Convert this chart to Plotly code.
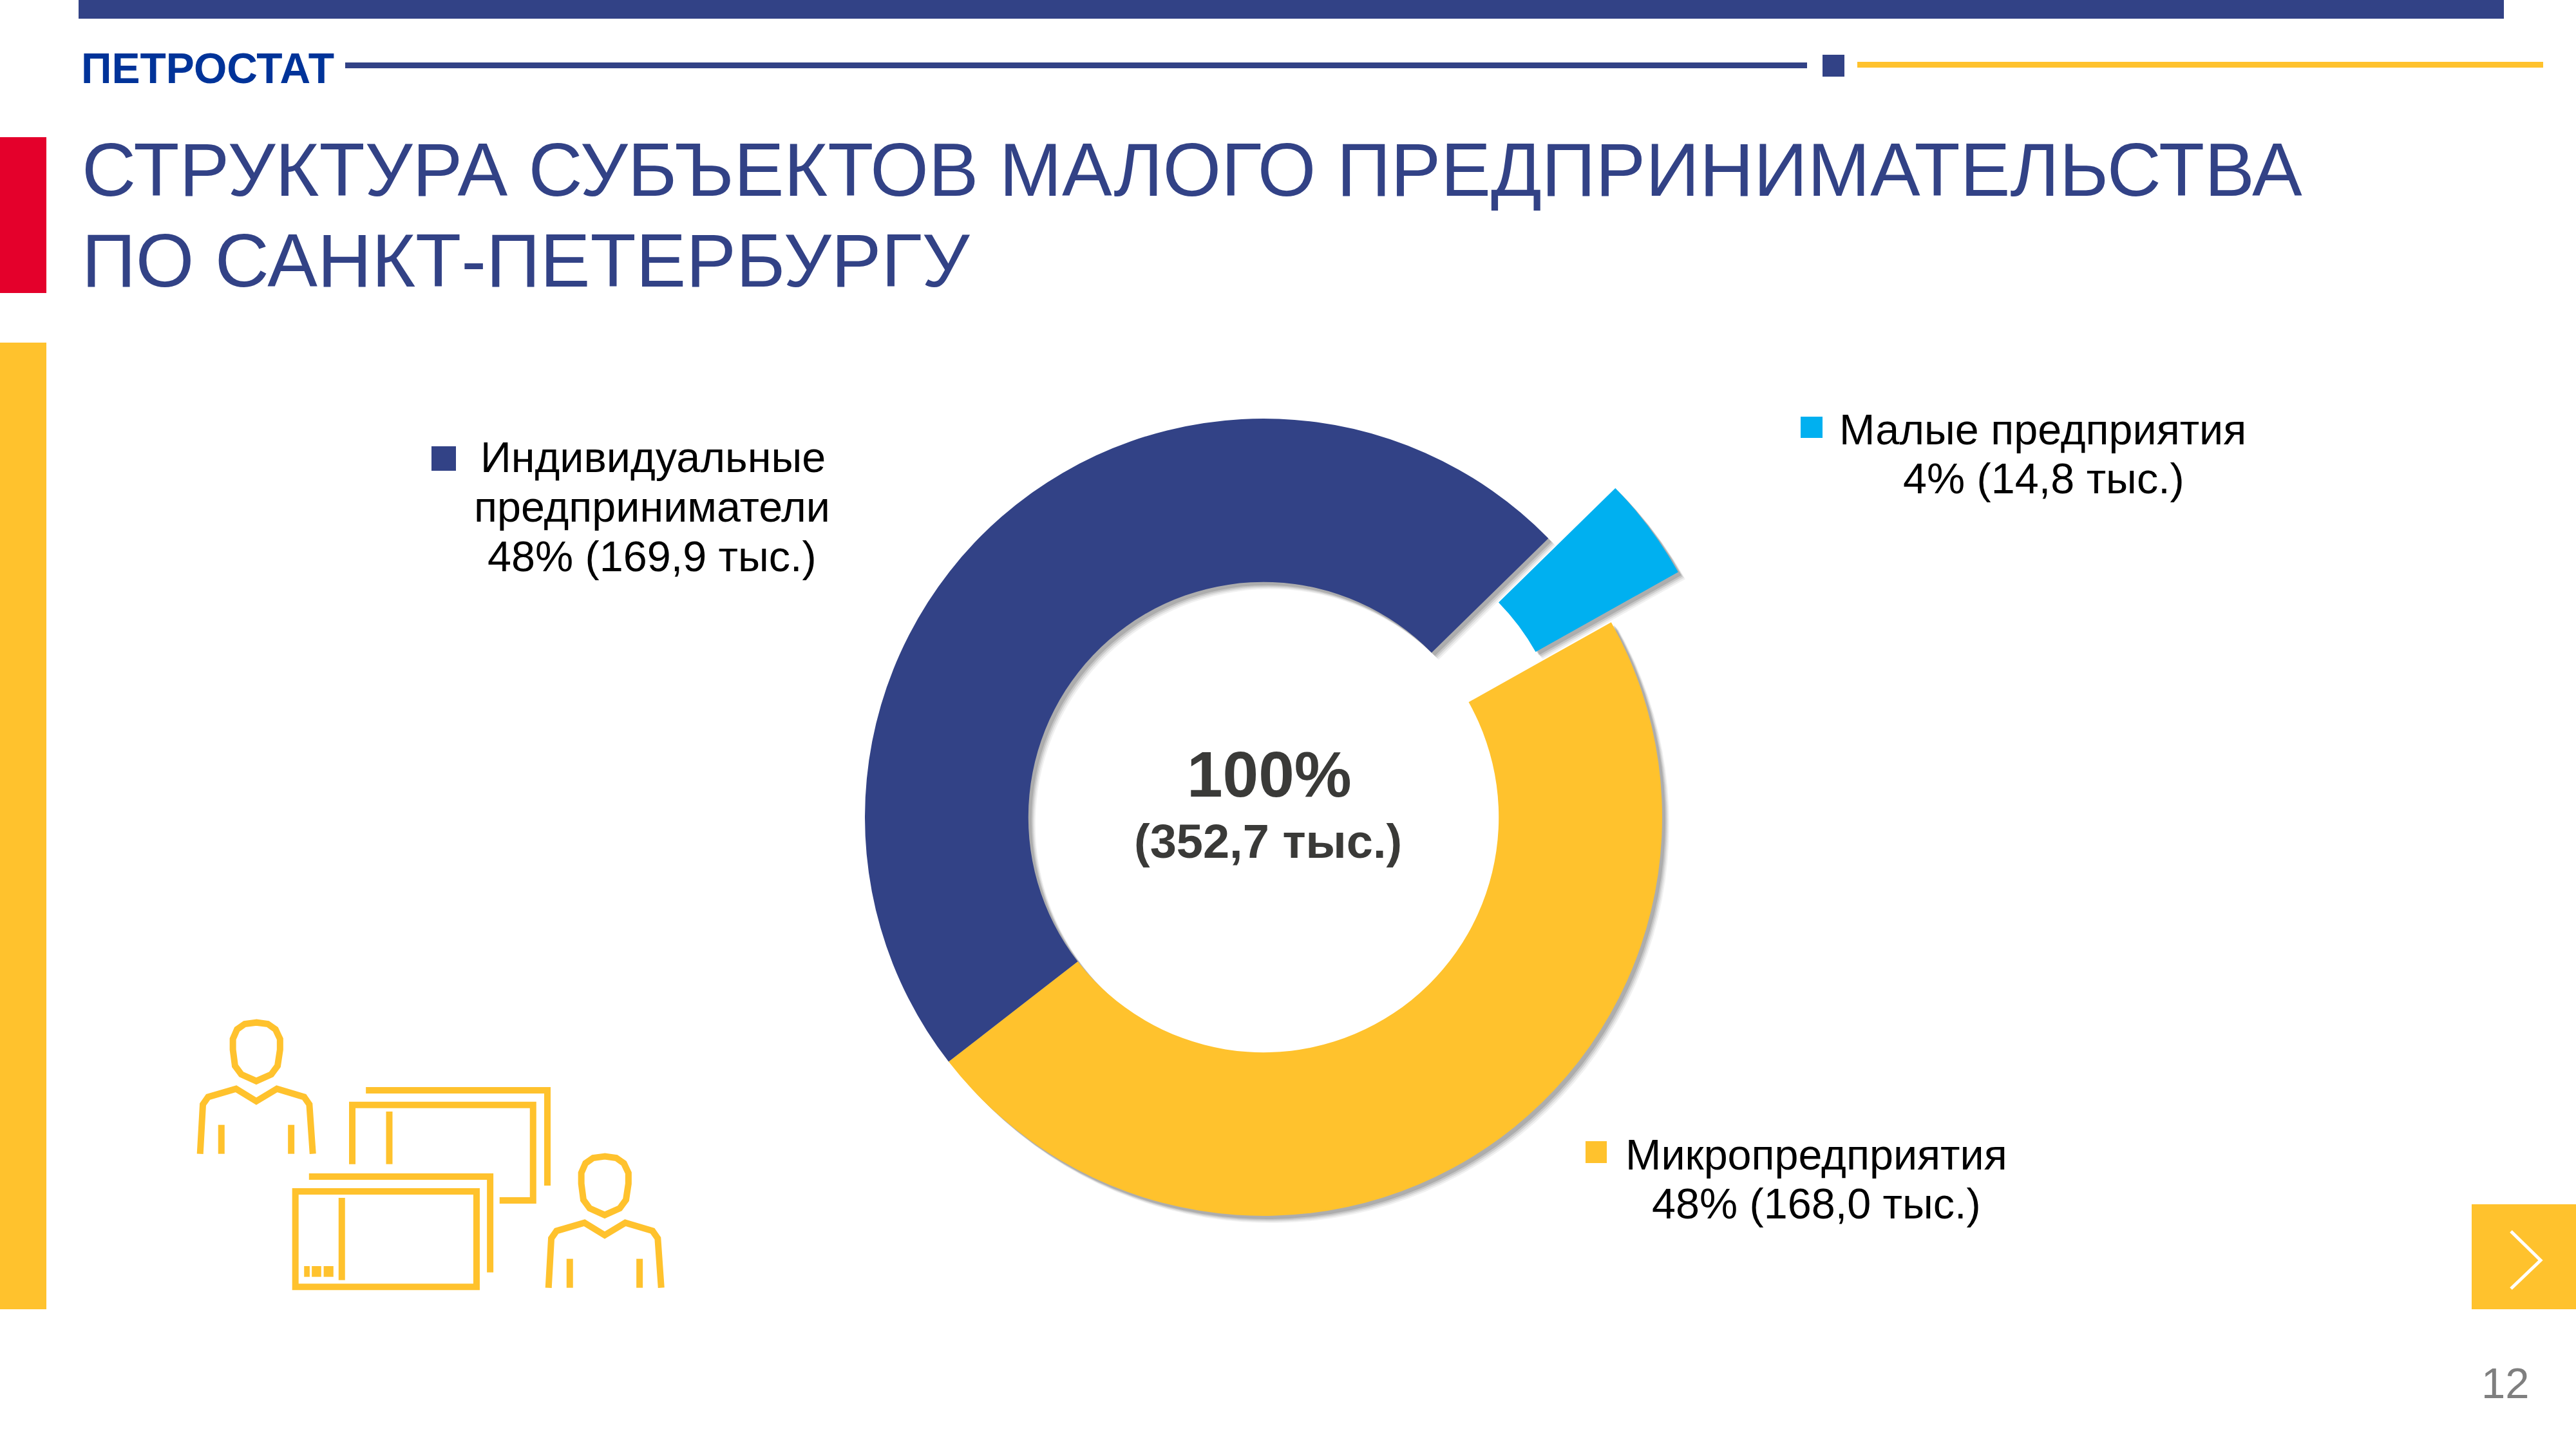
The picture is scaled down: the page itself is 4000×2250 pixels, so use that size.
import plotly.graph_objects as go

W = 4000
H = 2250

NAVY = "#324286"
YELLOW = "#FFC22D"
SKY = "#00B0F0"
RED = "#E4002B"
FONT = "Liberation Sans"

# data, thousand entities
categories = ["Малые предприятия", "Микропредприятия", "Индивидуальные предприниматели"]
values = [14.8, 168.0, 169.9]
slice_colors = [SKY, YELLOW, NAVY]

header_label = "ПЕТРОСТАТ"
title_lines = ["СТРУКТУРА СУБЪЕКТОВ МАЛОГО ПРЕДПРИНИМАТЕЛЬСТВА", "ПО САНКТ-ПЕТЕРБУРГУ"]
total_lines = ["100%", "(352,7 тыс.)"]
small_lines = ["Малые предприятия", "4% (14,8 тыс.)"]
micro_lines = ["Микропредприятия", "48% (168,0 тыс.)"]
ip_lines = ["Индивидуальные", "предприниматели", "48% (169,9 тыс.)"]
page_number = "12"

CX, CY = 1962, 1269
RADIUS = 619
PULL = 0.21


def fx(x):
    return x / W


def fy(y):
    return 1 - y / H


def donut(dx, dy, colors):
    half = RADIUS * (1 + PULL)
    return go.Pie(
        labels=categories,
        values=values,
        sort=False,
        direction="clockwise",
        rotation=45.6,
        hole=0.59,
        pull=[PULL, 0, 0],
        marker=dict(colors=colors, line=dict(width=0)),
        textinfo="none",
        hoverinfo="label+value",
        showlegend=False,
        domain=dict(
            x=[fx(CX + dx - half), fx(CX + dx + half)],
            y=[fy(CY + dy + half), fy(CY + dy - half)],
        ),
    )


fig = go.Figure()

# soft drop shadow under the ring
for off, alpha in [(11, 0.07), (9, 0.10), (7, 0.14), (5, 0.18)]:
    fig.add_trace(donut(off, off, [f"rgba(60,60,60,{alpha})"] * 3))
fig.add_trace(donut(0, 0, slice_colors))

shapes = []


def rect(x0, y0, x1, y1, color):
    shapes.append(dict(type="rect", xref="paper", yref="paper",
                       x0=fx(x0), x1=fx(x1), y0=fy(y1), y1=fy(y0),
                       fillcolor=color, line=dict(width=0), layer="below"))


def path(d, color, width=10):
    shapes.append(dict(type="path", xref="paper", yref="paper", path=d,
                       line=dict(color=color, width=width), fillcolor="rgba(0,0,0,0)"))


# page furniture
rect(122, 0, 3888, 29, NAVY)
rect(536, 97, 2806, 106, NAVY)
rect(2830, 85, 2864, 119, NAVY)
rect(2884, 96, 3949, 105, YELLOW)
rect(0, 213, 72, 455, RED)
rect(0, 532, 72, 2033, YELLOW)
rect(3838, 1870, 4000, 2033, YELLOW)

# legend squares
rect(2796, 647, 2830, 680, SKY)
rect(2462, 1772, 2495, 1806, YELLOW)
rect(670, 693, 708, 731, NAVY)


def icon_pt(x, y, ox=0, oy=0):
    # icon points are taken from a crop of the picture
    return fx(250 + x / 1.845 + ox), fy(1540 + y / 3 + oy)


def icon_line(points, closed=False, ox=0, oy=0, width=10):
    parts = []
    for i, (x, y) in enumerate(points):
        px_, py_ = icon_pt(x, y, ox, oy)
        parts.append(("M" if i == 0 else "L") + f"{px_:.5f},{py_:.5f}")
    path(" ".join(parts) + (" Z" if closed else ""), YELLOW, width)


def person(ox, oy):
    head = [(273, 143), (240, 150), (218, 175), (206, 220), (206, 270), (212, 345), (230, 385),
            (273, 416), (316, 385), (334, 345), (341, 270), (341, 220), (328, 175), (306, 150)]
    icon_line(head, closed=True, ox=ox, oy=oy)
    body = [(112, 755), (120, 525), (135, 490), (215, 452), (273, 510), (332, 452),
            (410, 490), (425, 525), (435, 755)]
    icon_line(body, ox=ox, oy=oy)
    icon_line([(173, 620), (173, 755)], ox=ox, oy=oy)
    icon_line([(373, 620), (373, 755)], ox=ox, oy=oy)


person(0, 0)
person(541, 208)

icon_line([(587, 459), (1107, 459), (1107, 903)])
icon_line([(548, 803), (548, 527), (1066, 527), (1066, 972), (970, 972)])
icon_line([(654, 558), (654, 803)])
icon_line([(424, 861), (943, 861), (943, 1307)])
icon_line([(385, 930), (904, 930), (904, 1375), (385, 1375)], closed=True)
icon_line([(518, 960), (518, 1343)])
for a, b in [(410, 426), (432, 459), (466, 494)]:
    rect(250 + a / 1.845, 1540 + 1278 / 3, 250 + b / 1.845, 1540 + 1328 / 3, YELLOW)

# chevron on the next-page box
path(f"M{fx(3899)},{fy(1912)} L{fx(3945)},{fy(1957)} L{fx(3899)},{fy(2001)}", "white", 5)

annotations = []


def label(text, x, baseline, size, color="#000000", anchor="center", bold=False):
    # bottom of the text box sits one descent below the baseline
    annotations.append(dict(
        text=f"<b>{text}</b>" if bold else text,
        xref="paper", yref="paper",
        x=fx(x), y=fy(baseline + 0.212 * size),
        xanchor=anchor, yanchor="bottom",
        showarrow=False, borderpad=0, borderwidth=0,
        font=dict(family=FONT, size=size, color=color),
    ))


label(header_label, 126, 129, 66, "#003399", "left", bold=True)
label(title_lines[0], 127, 304, 116.5, NAVY, "left")
label(title_lines[1], 127, 445, 116.5, NAVY, "left")

label(total_lines[0], 1971, 1237, 100, "#3A3A38", bold=True)
label(total_lines[1], 1969, 1332, 74, "#3A3A38", bold=True)

label(small_lines[0], 3172, 690, 66.5)
label(small_lines[1], 3173, 766, 66.5)
label(micro_lines[0], 2820, 1816, 66.5)
label(micro_lines[1], 2820, 1892, 66.5)
label(ip_lines[0], 1014, 733, 66.5)
label(ip_lines[1], 1013, 810, 66.5)
label(ip_lines[2], 1013, 887, 66.5)

label(page_number, 3890, 2171, 67, "#7F7F7F")

fig.update_layout(
    width=W,
    height=H,
    margin=dict(l=0, r=0, t=0, b=0),
    paper_bgcolor="white",
    plot_bgcolor="white",
    showlegend=False,
    shapes=shapes,
    annotations=annotations,
)

fig.write_html("out.html", config=dict(displayModeBar=False),
               post_script="document.body.style.margin='0';")
